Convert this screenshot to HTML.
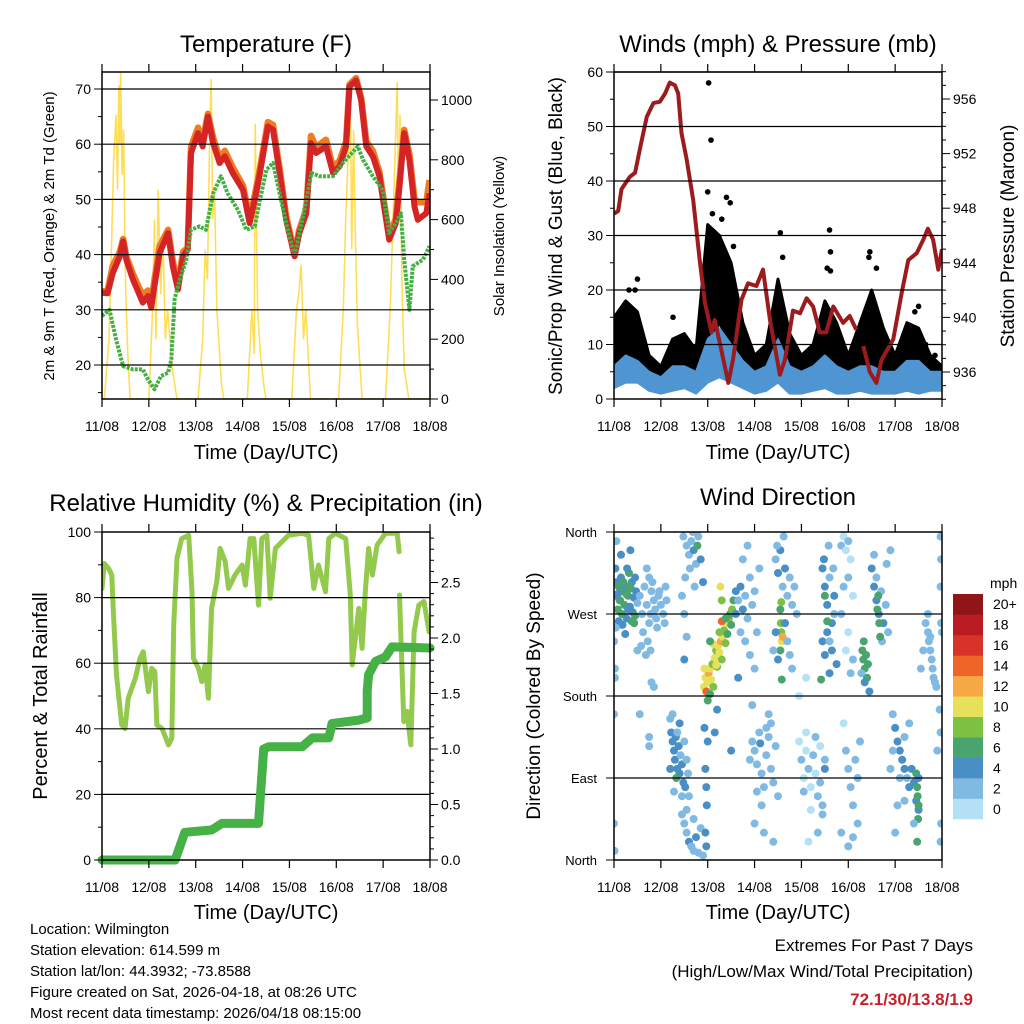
<!DOCTYPE html>
<html><head><meta charset="utf-8"><style>
html,body{margin:0;padding:0;background:#fff;}
svg{display:block;font-family:"Liberation Sans",Arial,sans-serif;}
</style></head><body>
<svg id="chart" width="1024" height="1024" viewBox="0 0 1024 1024" xmlns="http://www.w3.org/2000/svg">
<defs>
<clipPath id="c1"><rect x="102" y="72" width="328" height="327"/></clipPath>
<clipPath id="c2"><rect x="614" y="72" width="328" height="327"/></clipPath>
<clipPath id="c3"><rect x="102" y="532" width="328" height="328"/></clipPath>
<clipPath id="c4"><rect x="614" y="532" width="328" height="328"/></clipPath>
</defs>
<rect width="1024" height="1024" fill="#fff"/>
<text x="266" y="52" font-size="24" text-anchor="middle">Temperature (F)</text>
<text x="778" y="52" font-size="24" text-anchor="middle">Winds (mph) &amp; Pressure (mb)</text>
<text x="266" y="511" font-size="24" text-anchor="middle">Relative Humidity (%) &amp; Precipitation (in)</text>
<text x="778" y="505" font-size="24" text-anchor="middle">Wind Direction</text>
<text x="266" y="459" font-size="20" text-anchor="middle">Time (Day/UTC)</text>
<text x="778" y="459" font-size="20" text-anchor="middle">Time (Day/UTC)</text>
<text x="266" y="919" font-size="20" text-anchor="middle">Time (Day/UTC)</text>
<text x="778" y="919" font-size="20" text-anchor="middle">Time (Day/UTC)</text>
<text transform="translate(54,236) rotate(-90)" font-size="15" text-anchor="middle">2m &amp; 9m T (Red, Orange) &amp; 2m Td (Green)</text>
<text transform="translate(504,236) rotate(-90)" font-size="15" text-anchor="middle">Solar Insolation (Yellow)</text>
<text transform="translate(562,236) rotate(-90)" font-size="19" text-anchor="middle">Sonic/Prop Wind &amp; Gust (Blue, Black)</text>
<text transform="translate(1014,236) rotate(-90)" font-size="19" text-anchor="middle">Station Pressure (Maroon)</text>
<text transform="translate(47,696) rotate(-90)" font-size="20" text-anchor="middle">Percent &amp; Total Rainfall</text>
<text transform="translate(540,696) rotate(-90)" font-size="19" text-anchor="middle">Direction (Colored By Speed)</text>
<g font-size="15">
<text x="30" y="934">Location: Wilmington</text>
<text x="30" y="955">Station elevation: 614.599 m</text>
<text x="30" y="976">Station lat/lon: 44.3932; -73.8588</text>
<text x="30" y="997">Figure created on Sat, 2026-04-18, at 08:26 UTC</text>
<text x="30" y="1018">Most recent data timestamp: 2026/04/18 08:15:00</text>
</g>
<text x="973" y="951" font-size="17" text-anchor="end">Extremes For Past 7 Days</text>
<text x="973" y="977" font-size="17" text-anchor="end">(High/Low/Max Wind/Total Precipitation)</text>
<text x="973" y="1005" font-size="17" font-weight="bold" fill="#c8202a" text-anchor="end">72.1/30/13.8/1.9</text>
<text x="990" y="588" font-size="14">mph</text>
</svg>
<script>
// ---------- data ----------
const dayLabels=["11/08","12/08","13/08","14/08","15/08","16/08","17/08","18/08"];
const tTimes=[0,0.12,0.23,0.38,0.45,0.52,0.66,0.87,0.98,1.05,1.12,1.23,1.41,1.51,1.62,1.73,1.83,1.9,2.05,2.15,2.26,2.37,2.51,2.62,2.79,3.01,3.15,3.26,3.36,3.54,3.65,3.79,3.93,4.11,4.21,4.36,4.46,4.57,4.78,4.93,5.07,5.21,5.28,5.42,5.53,5.64,5.78,5.92,6.13,6.27,6.35,6.45,6.56,6.67,6.74,6.92,6.99];
const tRed=[33.1,33,36.7,39.7,42.4,39,35.5,31.3,32.5,30.4,34.3,40.3,43.9,37.9,33.7,39.7,40.9,58.4,62,59.6,65,60.2,56.6,57.8,54.8,51.7,45.7,49.9,54.2,63.2,62.6,54.8,46.3,39.7,43.9,47.5,60.2,58.4,59.6,54.8,56,59.6,70.4,71.6,68,59.6,57.8,54.2,42.7,45.7,52.3,62,57.2,48.7,46.3,47.5,51.1];
const tOrange=[33.3,33.5,38,40.5,42.8,39.6,36.5,32.5,33.5,31,35.5,41.5,44.5,38.8,34.5,40.5,41.2,59.5,63,60.5,65.5,61.2,57.5,58.8,55.8,52.5,46.5,50.8,55,64,63.5,55.6,47,40.2,44.5,48.2,61.5,59.5,60.8,55.8,57,60.5,70.8,72,68.5,60.5,58.8,55,43.4,46.5,53.5,62.6,58.2,50,49.5,49.5,53.5];
const tdTimes=[0,0.16,0.3,0.45,0.66,0.87,0.98,1.12,1.26,1.41,1.48,1.55,1.66,1.8,1.9,2.08,2.22,2.37,2.54,2.68,2.9,3.08,3.26,3.37,3.51,3.65,3.79,3.93,4.11,4.29,4.47,4.64,4.93,5.14,5.46,5.57,5.78,5.99,6.13,6.27,6.38,6.45,6.56,6.63,6.85,6.99];
const tdVals=[28.9,30,24.6,19.8,19.2,19.2,17.4,15.6,18,18.6,21,31.9,35.5,39.1,44.5,45.1,44.5,51.1,54.2,51.1,48.1,44.5,45.1,49.9,55.4,56.6,51.1,45.7,39.7,46.9,54.8,54.2,54.2,56.6,59.6,57.2,54.2,51.7,43.9,45.7,47.5,39.1,30,37.9,39.1,41.5];
const solarTimes=[0,0.05,0.15,0.2,0.25,0.3,0.33,0.36,0.38,0.4,0.43,0.46,0.5,0.55,0.6,1.0,1.08,1.12,1.15,1.2,1.25,1.3,1.35,1.4,1.5,1.6,2.05,2.15,2.2,2.25,2.3,2.33,2.36,2.4,2.45,2.55,2.6,3.1,3.2,3.25,3.27,3.32,3.38,3.45,3.5,4.05,4.15,4.2,4.25,4.3,4.35,4.45,5.05,5.15,5.2,5.25,5.3,5.33,5.37,5.4,5.45,5.55,6.05,6.15,6.25,6.3,6.33,6.36,6.4,6.45,6.55,7];
const solarVals=[0,0,200,500,800,950,700,1050,850,1090,750,900,400,150,0,0,300,600,200,700,350,550,200,300,100,0,0,200,500,400,900,1070,600,700,300,50,0,0,300,150,920,300,150,50,0,0,300,350,450,200,300,0,0,300,600,800,1040,500,900,600,250,0,0,300,800,1060,600,950,400,100,0,0];
const presTimes=[0,0.09,0.16,0.34,0.45,0.55,0.7,0.84,0.98,1.09,1.19,1.3,1.37,1.44,1.55,1.69,1.83,1.94,2.08,2.15,2.26,2.44,2.54,2.72,2.86,3.04,3.18,3.33,3.54,3.65,3.82,3.97,4.11,4.25,4.39,4.53,4.68,4.89,5.03,5.17];
const presVals=[947.6,947.8,949.4,950.3,950.6,952.3,954.7,955.7,955.8,956.4,957.2,957,956.4,953.5,951.6,948.6,944.2,941.1,938.9,939.8,938.1,935.2,936.9,941.3,942.5,942.3,943.5,939.8,935.8,936.9,940.5,940.3,941.4,940.8,938.9,938.9,940.8,939.6,940.1,939.1];
const presTimes2=[5.32,5.46,5.6,5.71,5.96,6.14,6.28,6.46,6.6,6.7,6.81,6.92,7];
const presVals2=[937.9,936,935.2,936.9,938.4,941.8,944.2,944.7,945.7,946.5,945.7,943.5,945];
const windTimes=[0,0.25,0.5,0.75,1,1.25,1.5,1.75,2,2.25,2.5,2.75,3,3.25,3.5,3.75,4,4.25,4.5,4.75,5,5.25,5.5,5.75,6,6.25,6.5,6.75,7];
const windLo=[2,3,3,1.5,1,1.5,2,1,3,4,3,2,1,1.5,3,1,1,1.5,2,1,1,1.5,1,1,1,1.5,1,1.5,1.5];
const windHi=[6,8,7,5,4,6,6,5,11,13,10,7,5,6,11,6,5,6,8,6,5,6,6,5,5,7,7,5,5];
const gustLo=[4,8,7,4,3,5,5,4,10,14,10,6,3,4,8,3,3,4,6,4,3,4,5,3,3,5,4,3,2];
const gustHi=[15,18,16,8,6,11,12,9,32,30,25,14,8,10,22,12,8,10,18,14,8,14,20,13,8,14,13,8,6];
const gustPeakT=[2.02,2.07,2.0,2.4,2.48,3.55,4.6,4.62,4.62,5.46,5.44,0.32,0.45,0.5,1.26,6.42,6.65,6.85,2.1,2.3,2.55,3.6,4.55,5.6,6.5];
const gustPeakV=[58,47.5,38,37,36,30.5,31,27,23.5,27,26,20,20,22,15,16,10,8,34,33,28,26,24,24,17];
const rhTimes=[0,0.05,0.14,0.21,0.24,0.31,0.42,0.49,0.56,0.71,0.81,0.88,0.99,1.06,1.13,1.17,1.28,1.42,1.49,1.53,1.6,1.7,1.85,1.92,1.95,2.06,2.13,2.2,2.27,2.34,2.45,2.52,2.63,2.7,2.84,2.99,3.06,3.16,3.24,3.34,3.41,3.52,3.59,3.7,3.84,3.98,4.27,4.41,4.52,4.62,4.77,4.84,4.98,5.2,5.3,5.34,5.48,5.55,5.62,5.69,5.77,5.87,6.05,6.3,6.34];
const rhVals=[82.8,90.4,88.9,86.9,76.7,56.4,41.2,40.1,49.3,55.4,61.5,63.5,51.3,58.4,57.4,41.2,40.1,35.1,37.1,71.6,92,98,99,81.8,61.5,58.4,54.4,59.5,49.3,76.7,84.9,95,91,82.8,86.9,89.9,83.8,98,98,77.7,98,99,79.8,95,97,99,99.6,99,82.8,89.9,81.8,98,99.6,98,80.8,59.5,76.7,64.5,81.8,95,86.9,96,99.6,99.6,94];
const rhTimes2=[6.35,6.44,6.51,6.59,6.66,6.76,6.87,6.98];
const rhVals2=[80.8,42.2,45.3,35.1,69.6,77.7,78.8,69.6];
const rainTimes=[0,1.56,1.77,2.34,2.56,3.34,3.45,3.56,4.27,4.49,4.84,4.91,5.48,5.66,5.66,5.69,5.84,6.05,6.19,7.0];
const rainVals=[0,0,0.25,0.27,0.33,0.33,1.0,1.02,1.02,1.1,1.1,1.23,1.26,1.28,1.52,1.67,1.79,1.83,1.92,1.91];
const dirObs=[
[0.02,290,4],[0.05,305,5],[0.08,275,6],[0.1,300,6],[0.12,285,5],[0.15,310,4],[0.17,270,6],[0.2,295,6],[0.22,280,7],[0.25,300,5],[0.27,265,4],[0.3,290,6],[0.32,315,7],[0.34,278,5],[0.36,298,6],[0.38,305,4],[0.4,272,4],[0.42,288,5],[0.45,268,6],[0.47,295,4],[0.5,282,3],[0.1,262,4],[0.18,258,4],[0.28,320,4],[0.04,255,3],[0.35,340,4],[0.15,335,4],[0.43,260,7],[0.24,248,4],[0.0,240,2],[0.02,210,2],[0.03,320,4],[0.13,285,6],[0.26,292,6],[0.3,275,5],[0.38,262,6],[0.08,292,5],[0.2,305,7],[0.33,300,6],[0.45,310,4],
[0.55,290,3],[0.6,270,2],[0.62,250,3],[0.65,300,2],[0.7,280,3],[0.72,240,2],[0.75,260,3],[0.78,230,2],[0.8,295,3],[0.85,285,2],[0.88,275,3],[0.9,265,3],[0.95,290,2],[1.0,280,3],[1.05,270,2],[1.1,300,3],[1.12,285,3],[0.68,225,3],[0.82,305,3],[0.92,255,2],[0.58,235,3],[0.75,310,2],[0.97,295,3],[1.08,260,3],[0.8,195,2],[0.85,190,3],[0.5,230,3],[0.55,160,2],[0.7,320,3],[0.78,270,2],
[1.2,155,3],[1.22,140,4],[1.25,130,4],[1.28,120,4],[1.3,110,5],[1.32,135,4],[1.35,100,4],[1.38,125,5],[1.4,95,4],[1.42,115,3],[1.45,105,4],[1.48,85,4],[1.5,130,3],[1.52,80,4],[1.55,110,3],[1.58,95,3],[1.35,140,3],[1.28,75,3],[1.6,70,3],[1.4,150,4],[1.33,90,6],[1.2,100,4],[1.45,70,3],[1.25,160,3],[0.75,135,2],[0.75,125,2],
[1.45,50,2],[1.5,40,3],[1.55,30,3],[1.6,20,4],[1.65,15,3],[1.7,10,3],[1.75,25,4],[1.8,8,3],[1.85,35,2],[1.9,5,3],[1.55,55,2],[1.7,45,2],[1.48,355,3],[1.55,345,3],[1.6,335,3],[1.65,350,2],[1.7,340,4],[1.75,325,3],[1.8,355,3],[1.85,330,4],[1.52,310,3],[1.62,320,2],[1.72,300,3],[1.78,345,6],[1.68,360,3],[1.9,305,4],[1.45,290,3],[1.5,270,2],[1.55,245,3],[1.5,220,4],
[1.95,100,4],[1.97,80,4],[1.98,60,4],[2.0,130,5],[1.93,145,4],[1.95,30,4],[1.97,15,4],[2.15,140,4],[2.5,120,4],[2.2,165,4],
[1.92,190,11],[1.95,200,10],[1.97,185,14],[2.0,195,10],[2.02,205,12],[2.05,210,10],[2.07,198,10],[2.1,215,9],[2.12,190,8],[2.15,222,10],[2.18,230,9],[2.2,212,8],[2.22,235,11],[2.25,228,10],[2.28,240,12],[2.3,220,9],[2.32,245,10],[2.35,252,9],[2.38,238,8],[2.4,260,10],[2.42,248,7],[2.45,265,8],[2.48,270,7],[2.5,258,6],[2.52,275,8],[2.3,262,15],[2.27,300,10],[2.3,285,8],[2.12,237,10],[2.05,182,7],[2.0,175,7],[1.93,210,10],[2.18,214,11],[2.25,250,8],[2.38,265,7],[2.55,285,6],[2.6,295,4],[2.05,240,6],
[2.6,270,4],[2.65,285,3],[2.7,300,4],[2.75,275,4],[2.8,290,3],[2.85,265,3],[2.9,310,3],[2.95,280,2],[3.0,295,3],[2.7,250,3],[2.8,240,3],[2.9,225,2],[3.0,210,3],[3.05,250,3],[2.75,330,2],[2.85,345,3],[3.1,320,2],[2.65,200,4],[2.95,170,3],
[2.95,130,2],[3.0,120,3],[3.05,105,3],[3.1,140,2],[3.15,95,3],[3.2,80,3],[3.25,115,3],[3.3,135,3],[3.35,100,2],[3.4,85,3],[3.45,125,2],[3.5,70,3],[3.05,75,3],[3.15,60,2],[3.25,145,2],[3.35,150,3],[3.0,40,2],[3.2,30,2],[3.4,20,3],[3.3,160,3],[2.9,110,3],[3.12,128,4],
[3.45,330,3],[3.5,315,4],[3.55,340,4],[3.6,300,3],[3.65,320,4],[3.7,290,3],[3.75,310,3],[3.8,280,3],[3.85,300,2],[3.9,270,3],[3.55,275,7],[3.56,260,9],[3.57,250,8],[3.58,240,10],[3.55,230,7],[3.6,245,12],[3.57,283,8],[3.5,220,4],[3.45,250,4],[3.4,230,3],[3.65,260,4],[3.7,240,3],[3.75,225,3],[3.58,198,6],[3.48,345,3],[3.62,355,3],[3.8,210,2],
[3.95,130,1],[4.0,110,2],[4.05,90,1],[4.1,120,1],[4.15,100,2],[4.2,80,1],[4.25,115,2],[4.3,95,1],[4.35,70,2],[4.4,125,1],[4.45,60,2],[4.1,140,1],[4.2,55,1],[4.3,135,2],[4.05,75,2],[4.4,85,2],[4.5,100,4],[4.45,50,3],[4.5,110,3],[4.35,30,2],[4.15,20,1],[3.95,180,1],[4.1,200,1],
[4.45,320,4],[4.5,300,4],[4.55,280,4],[4.6,310,3],[4.65,260,4],[4.7,290,4],[4.45,240,4],[4.5,225,4],[4.55,250,5],[4.6,205,4],[4.65,230,4],[4.7,270,3],[4.75,215,4],[4.42,198,6],[4.55,262,6],[4.5,290,7],[4.6,240,3],[4.48,330,4],[4.58,345,3],[4.68,320,3],
[4.85,345,2],[4.9,355,1],[4.95,340,1],[5.0,350,2],[5.05,330,1],[4.9,300,2],[5.0,310,2],[5.1,290,1],[4.85,270,2],[5.0,250,1],[5.1,220,2],[4.95,230,1],[5.05,205,2],[4.9,150,1],[4.95,120,2],[5.0,100,2],[5.05,80,2],[5.1,60,3],[5.15,110,2],[5.2,90,3],[5.2,40,2],[5.25,130,2],[5.1,25,3],[4.85,30,2],[5.0,15,3],
[5.3,230,6],[5.32,220,6],[5.35,210,7],[5.38,225,6],[5.4,200,6],[5.42,215,6],[5.35,195,5],[5.33,240,6],[5.28,205,3],[5.45,185,4],
[5.5,320,4],[5.55,300,4],[5.6,285,4],[5.65,270,4],[5.7,295,3],[5.75,260,4],[5.8,280,3],[5.85,250,3],[5.62,275,6],[5.64,290,6],[5.66,260,6],[5.6,310,3],[5.72,240,3],[5.55,335,3],[5.82,325,3],[5.68,245,7],[5.9,340,2],
[5.95,160,3],[6.0,145,4],[6.05,130,4],[6.1,120,4],[6.15,110,4],[6.2,100,4],[6.25,90,3],[6.3,80,4],[6.35,100,4],[6.4,85,4],[6.45,65,5],[6.5,55,4],[6.2,135,3],[6.3,150,3],[6.1,90,3],[5.95,120,3],[6.45,95,6],[6.47,80,6],[6.48,70,6],[6.5,60,6],[6.49,45,6],[6.47,20,6],[6.5,90,4],[6.05,60,3],[6.4,40,3],[6.2,65,3],[6.0,30,3],[5.9,100,3],
[6.65,260,2],[6.7,250,2],[6.72,240,2],[6.75,230,2],[6.78,220,2],[6.8,210,2],[6.82,200,2],[6.85,195,2],[6.7,270,2],[6.75,245,2],[6.88,190,2],[6.55,210,3],[6.6,230,2],
[6.97,355,2],[6.98,330,2],[6.97,300,2],[6.98,260,2],[6.97,140,2],[6.98,40,2],[6.97,20,2],[6.9,120,2],[6.95,165,2],[7.0,250,2],
[0.0,160,2],[0.0,40,2],[0.01,10,2],[0.02,200,2],[0.05,350,2]];
const speedBins=["0","2","4","6","8","10","12","14","16","18","20+"];
const speedColors=["#b5e1f6","#80bae3","#4a8ec6","#49a46e","#7cc142","#e6e05a","#f6a844","#ee6429","#d93228","#bb1b22","#8f1519"];

// ---------- helpers ----------
const NS="http://www.w3.org/2000/svg";
const svg=document.getElementById("chart");
function el(tag,attrs,parent){const e=document.createElementNS(NS,tag);for(const k in attrs)e.setAttribute(k,attrs[k]);(parent||svg).appendChild(e);return e;}
function xs(p){return d=>p.x0+(p.x1-p.x0)*d/7;}
const P1={x0:102,x1:430,y0:72,y1:399},P2={x0:614,x1:942,y0:72,y1:399},P3={x0:102,x1:430,y0:532,y1:860},P4={x0:614,x1:942,y0:532,y1:860};
const x1s=xs(P1),x2s=xs(P2),x3s=xs(P3),x4s=xs(P4);
const yT=v=>89+(70-v)*5.52, yS=v=>399-v*0.299;
const yW=v=>399-v*5.45, yP=v=>99+(956-v)*13.65;
const yRH=v=>860-v*3.28, yR=v=>860-v*111;
const yD=v=>860-v*328/360;
function pts(ts,vs,xf,yf){return ts.map((t,i)=>xf(t).toFixed(1)+","+yf(vs[i]).toFixed(1)).join(" ");}

function gridLines(p,vals,yf,name){vals.forEach(v=>{const l=el("line",{x1:p.x0,x2:p.x1,y1:yf(v),y2:yf(v),stroke:"#000","stroke-width":1.2});

});}
function frame(p,name){const r=el("rect",{x:p.x0,y:p.y0,width:p.x1-p.x0,height:p.y1-p.y0,fill:"none",stroke:"#000","stroke-width":1.5});

}
function xTicks(p,xf){for(let d=0;d<=7;d++){const x=xf(d);
const a=el("line",{x1:x,x2:x,y1:p.y1,y2:p.y1+8,stroke:"#000","stroke-width":1.2});


const b=el("line",{x1:x,x2:x,y1:p.y0,y2:p.y0-8,stroke:"#000","stroke-width":1.2});


const t=el("text",{x:x,y:p.y1+32,"font-size":14,"text-anchor":"middle"});t.textContent=dayLabels[d];

}}
function yTicks(side,p,yf,lo,hi,step,labStep,fmt,name){const x=side==="l"?p.x0:p.x1;const dir=side==="l"?-1:1;
for(let v=lo;v<=hi+1e-6;v+=step){const y=yf(v);if(y<p.y0-0.5||y>p.y1+0.5)continue;
const major=Math.abs(v/labStep-Math.round(v/labStep))<1e-6;
const l=el("line",{x1:x,x2:x+dir*(major?8:4),y1:y,y2:y,stroke:"#000","stroke-width":1});


if(major){const t=el("text",{x:x+dir*11,y:y+5,"font-size":14,"text-anchor":side==="l"?"end":"start"});t.textContent=fmt(v);

}}}

// ---------- panel 1: temperature ----------
const g1=el("g",{"clip-path":"url(#c1)"});


gridLines(P1,[20,30,40,50,60,70],yT,'temp-gridline');
const sol=el("polyline",{points:pts(solarTimes,solarVals,x1s,yS),fill:"none",stroke:"#ffd83a","stroke-width":1.6,"stroke-opacity":0.85},g1);


const to=el("polyline",{points:pts(tTimes,tOrange,x1s,yT),fill:"none",stroke:"#f07c22","stroke-width":6.5,"stroke-linejoin":"round"},g1);


const tr=el("polyline",{points:pts(tTimes,tRed,x1s,yT),fill:"none",stroke:"#d42426","stroke-width":6,"stroke-linejoin":"round"},g1);


const td=el("polyline",{points:pts(tdTimes,tdVals,x1s,yT),fill:"none",stroke:"#44b044","stroke-width":4,"stroke-dasharray":"3 1.2","stroke-linejoin":"round"},g1);


frame(P1,'temp-frame');xTicks(P1,x1s);
yTicks("l",P1,yT,15,70,5,10,v=>String(v),'temp-y');
yTicks("r",P1,yS,0,1000,100,200,v=>String(v),'solar-y');

// ---------- panel 2: winds ----------
const g2=el("g",{"clip-path":"url(#c2)"});


gridLines(P2,[10,20,30,40,50,60],yW,'wind-gridline');
const gb=el("polygon",{points:pts(windTimes,gustHi,x2s,yW)+" "+pts(windTimes.slice().reverse(),gustLo.slice().reverse(),x2s,yW),fill:"#000",stroke:"#000","stroke-width":3,"stroke-linejoin":"round"},g2);


gustPeakT.forEach((t,i)=>{const c=el("circle",{cx:x2s(t),cy:yW(gustPeakV[i]),r:2.8,fill:"#000"},g2);

});
const wb=el("polygon",{points:pts(windTimes,windHi,x2s,yW)+" "+pts(windTimes.slice().reverse(),windLo.slice().reverse(),x2s,yW),fill:"#4f95d1",stroke:"#4f95d1","stroke-width":2,"stroke-linejoin":"round"},g2);


[[presTimes,presVals],[presTimes2,presVals2]].forEach(s=>{const pl=el("polyline",{points:pts(s[0],s[1],x2s,yP),fill:"none",stroke:"#9c1b1f","stroke-width":4,"stroke-linejoin":"round"},g2);

});
frame(P2,'winds-frame');xTicks(P2,x2s);
yTicks("l",P2,yW,0,60,5,10,v=>String(v),'wind-y');
yTicks("r",P2,yP,934,958,1,4,v=>String(v),'pressure-y');

// ---------- panel 3: humidity ----------
const g3=el("g",{"clip-path":"url(#c3)"});


gridLines(P3,[20,40,60,80],yRH,'rh-gridline');
[[rhTimes,rhVals],[rhTimes2,rhVals2]].forEach(s=>{const pl=el("polyline",{points:pts(s[0],s[1],x3s,yRH),fill:"none",stroke:"#93c94d","stroke-width":5,"stroke-linejoin":"round","stroke-linecap":"round"},g3);

});
const rn=el("polyline",{points:pts(rainTimes,rainVals,x3s,yR),fill:"none",stroke:"#46b146","stroke-width":9,"stroke-linejoin":"round","stroke-linecap":"round"});


frame(P3,'humidity-frame');xTicks(P3,x3s);
yTicks("l",P3,yRH,0,100,10,20,v=>String(v),'rh-y');
yTicks("r",P3,yR,0,2.9,0.1,0.5,v=>v.toFixed(1),'rain-y');

// ---------- panel 4: wind direction ----------
const g4=el("g",{"clip-path":"url(#c4)"});


gridLines(P4,[90,180,270],yD,'direction-gridline');
function binOf(s){return Math.min(10,Math.floor(s/2));}
dirObs.forEach(o=>{const c=el("circle",{cx:x4s(o[0]),cy:yD(o[1]),r:4,fill:speedColors[binOf(o[2])]},g4);

});
frame(P4,'direction-frame');xTicks(P4,x4s);
const dirLabels=["North","East","South","West","North"];
dirLabels.forEach((lab,i)=>{const y=yD(i*90);
const l=el("line",{x1:P4.x0,x2:P4.x0-8,y1:y,y2:y,stroke:"#000","stroke-width":1});


const t=el("text",{x:P4.x0-17,y:y+5,"font-size":13,"text-anchor":"end"});t.textContent=lab;

});

// colorbar
const cbTop=594,cbH=225/11;
speedBins.forEach((lab,i)=>{const y=cbTop+(10-i)*cbH;
const r=el("rect",{x:953,y:y,width:30,height:cbH+0.3,fill:speedColors[i]});


const t=el("text",{x:993,y:y+cbH/2+5,"font-size":14});t.textContent=lab;

});
</script>
</body></html>
